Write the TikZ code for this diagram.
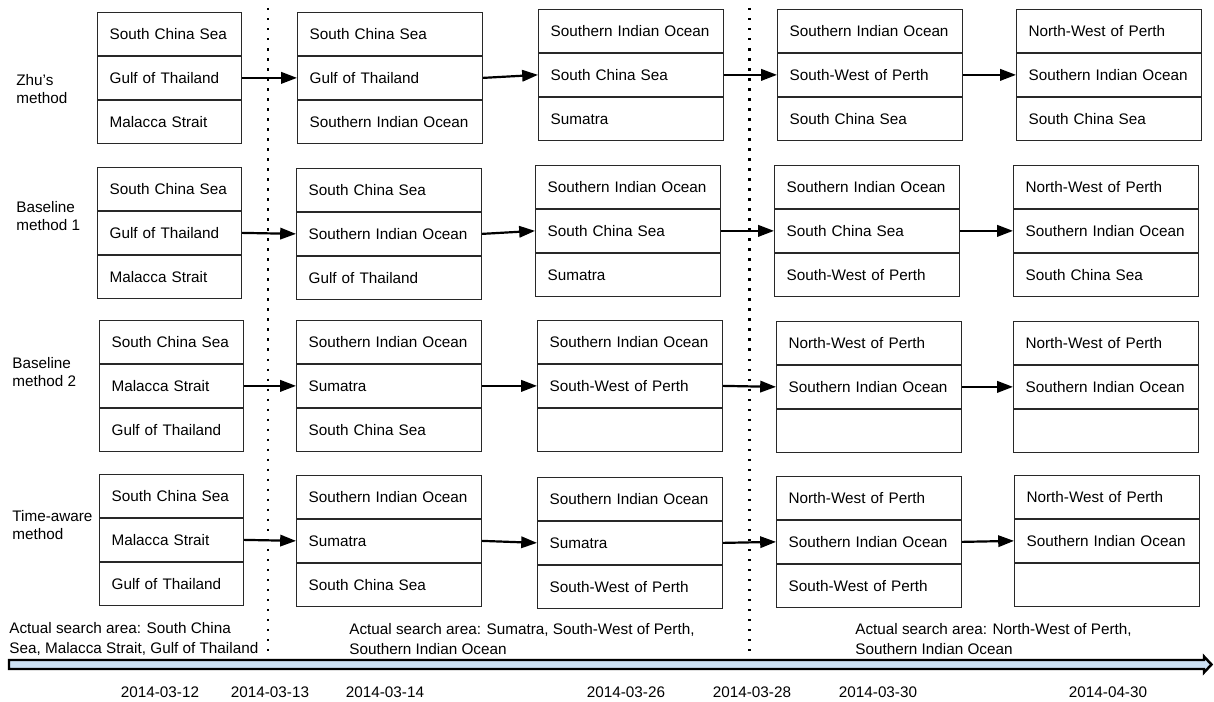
\documentclass[tikz,border=0pt]{standalone}
\usepackage{fontspec}
\setmainfont{Liberation Sans}
\usepackage{tikz}
\usetikzlibrary{positioning, arrows.meta}
\definecolor{boxline}{RGB}{40, 40, 40}
\definecolor{timelinefill}{RGB}{205, 225, 244}
\newcommand{\areafont}{\fontsize{8.7}{10.4}\selectfont}
% one ranked list = three stacked cells: name, x, y, text width, top, middle, bottom
\newcommand{\areabox}[7]{%
  \node[cell=#4, anchor=north west] (#1a) at (#2,#3) {#5};
  \node[cell=#4, below=0pt of #1a] (#1b) {#6};
  \node[cell=#4, below=0pt of #1b] (#1c) {#7};
}

\begin{document}
\begin{tikzpicture}[
  x=0.02cm, y=-0.02cm,
  cell/.style={draw=boxline, line width=0.7pt, minimum height=0.854cm, inner xsep=0.24cm, inner ysep=0pt, text width=#1, align=left, font=\areafont},
  flow/.style={line width=1.25pt, -{Triangle[length=9pt, width=6.5pt]}},
  period/.style={line width=1.7pt, dash pattern=on 1.4pt off 4.3pt},
  method/.style={anchor=west, align=left, inner sep=0, font=\fontsize{8.7}{10.3}\selectfont},
  actual/.style={anchor=west, align=left, inner sep=0, font=\fontsize{8.7}{11.4}\selectfont},
  datelabel/.style={inner sep=0, font=\areafont},
]
\useasboundingbox (0,0) rectangle (1214,702);

% Period separators
\draw[period] (268,8) -- (268,668);
\draw[period] (749,8) -- (749,668);

% ==================== Zhu's method ====================
\node[method] (zhulabel) at (16,89) {Zhu’s\\method};
\areabox{zhu1}{97}{12}{2.40cm}{South China Sea}{Gulf of Thailand}{Malacca Strait}
\areabox{zhu2}{297}{12}{3.22cm}{South China Sea}{Gulf of Thailand}{Southern Indian Ocean}
\areabox{zhu3}{538}{9}{3.22cm}{Southern Indian Ocean}{South China Sea}{Sumatra}
\areabox{zhu4}{777}{9}{3.22cm}{Southern Indian Ocean}{South-West of Perth}{South China Sea}
\areabox{zhu5}{1016}{9}{3.22cm}{North-West of Perth}{Southern Indian Ocean}{South China Sea}
\draw[flow] (zhu1b.east) -- (zhu2b.west);
\draw[flow] (zhu2b.east) -- (zhu3b.west);
\draw[flow] (zhu3b.east) -- (zhu4b.west);
\draw[flow] (zhu4b.east) -- (zhu5b.west);

% ==================== Baseline method 1 ====================
\node[method] (basealabel) at (16,216) {Baseline\\method 1};
\areabox{basea1}{97}{167}{2.40cm}{South China Sea}{Gulf of Thailand}{Malacca Strait}
\areabox{basea2}{296}{168}{3.22cm}{South China Sea}{Southern Indian Ocean}{Gulf of Thailand}
\areabox{basea3}{535}{165}{3.22cm}{Southern Indian Ocean}{South China Sea}{Sumatra}
\areabox{basea4}{774}{165}{3.22cm}{Southern Indian Ocean}{South China Sea}{South-West of Perth}
\areabox{basea5}{1013}{165}{3.22cm}{North-West of Perth}{Southern Indian Ocean}{South China Sea}
\draw[flow] (basea1b.east) -- (basea2b.west);
\draw[flow] (basea2b.east) -- (basea3b.west);
\draw[flow] (basea3b.east) -- (basea4b.west);
\draw[flow] (basea4b.east) -- (basea5b.west);

% ==================== Baseline method 2 ====================
\node[method] (baseblabel) at (12,372) {Baseline\\method 2};
\areabox{baseb1}{99}{320}{2.40cm}{South China Sea}{Malacca Strait}{Gulf of Thailand}
\areabox{baseb2}{296}{320}{3.22cm}{Southern Indian Ocean}{Sumatra}{South China Sea}
\areabox{baseb3}{537}{320}{3.22cm}{Southern Indian Ocean}{South-West of Perth}{}
\areabox{baseb4}{776}{321}{3.22cm}{North-West of Perth}{Southern Indian Ocean}{}
\areabox{baseb5}{1013}{321}{3.22cm}{North-West of Perth}{Southern Indian Ocean}{}
\draw[flow] (baseb1b.east) -- (baseb2b.west);
\draw[flow] (baseb2b.east) -- (baseb3b.west);
\draw[flow] (baseb3b.east) -- (baseb4b.west);
\draw[flow] (baseb4b.east) -- (baseb5b.west);

% ==================== Time-aware method ====================
\node[method] (timelabel) at (12,525) {Time-aware\\method};
\areabox{time1}{99}{474}{2.40cm}{South China Sea}{Malacca Strait}{Gulf of Thailand}
\areabox{time2}{296}{475}{3.22cm}{Southern Indian Ocean}{Sumatra}{South China Sea}
\areabox{time3}{537}{477}{3.22cm}{Southern Indian Ocean}{Sumatra}{South-West of Perth}
\areabox{time4}{776}{476}{3.22cm}{North-West of Perth}{Southern Indian Ocean}{South-West of Perth}
\areabox{time5}{1014}{475}{3.22cm}{North-West of Perth}{Southern Indian Ocean}{}
\draw[flow] (time1b.east) -- (time2b.west);
\draw[flow] (time2b.east) -- (time3b.west);
\draw[flow] (time3b.east) -- (time4b.west);
\draw[flow] (time4b.east) -- (time5b.west);

% ==================== Actual search areas ====================
\node[actual] (actual1) at (9,639) {Actual search area: South China\\Sea, Malacca Strait, Gulf of Thailand};
\node[actual] (actual2) at (349,639) {Actual search area: Sumatra, South-West of Perth,\\Southern Indian Ocean};
\node[actual] (actual3) at (855,639) {Actual search area: North-West of Perth,\\Southern Indian Ocean};

% Time axis
\draw[line width=1.4pt, fill=timelinefill] (9,660) -- (1204,660) -- (1204,656.5) -- (1211.5,664.5) -- (1204,672.5) -- (1204,669) -- (9,669) -- cycle;
\node[datelabel] (d0312) at (160,692) {2014-03-12};
\node[datelabel] (d0313) at (270,692) {2014-03-13};
\node[datelabel] (d0314) at (385,692) {2014-03-14};
\node[datelabel] (d0326) at (626,692) {2014-03-26};
\node[datelabel] (d0328) at (752,692) {2014-03-28};
\node[datelabel] (d0330) at (878,692) {2014-03-30};
\node[datelabel] (d0430) at (1108,692) {2014-04-30};

\end{tikzpicture}
\end{document}
